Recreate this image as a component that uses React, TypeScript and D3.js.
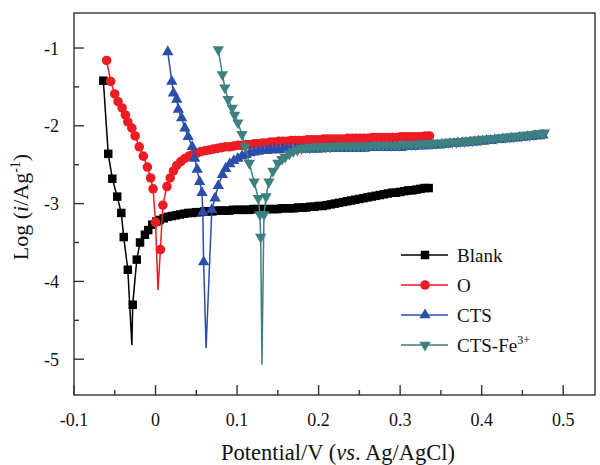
import React from "react";
import * as d3 from "d3";

type Pt = [number, number];

// Potentiodynamic polarization curves: [potential (V vs. Ag/AgCl), log(i / A g^-1)]
const blankCurve: Pt[] = [
  [-0.064, -1.42], [-0.058, -2.36], [-0.053, -2.68], [-0.047, -2.91], [-0.042, -3.12],
  [-0.039, -3.43], [-0.034, -3.85], [-0.029, -4.82], [-0.028, -4.30], [-0.023, -3.72],
  [-0.019, -3.50], [-0.013, -3.40], [-0.009, -3.34], [-0.004, -3.27], [0.001, -3.23],
  [0.005, -3.21], [0.010, -3.19], [0.015, -3.17], [0.020, -3.16], [0.025, -3.15],
  [0.030, -3.14], [0.035, -3.13], [0.040, -3.12], [0.045, -3.12], [0.050, -3.11],
  [0.055, -3.11], [0.060, -3.10], [0.065, -3.10], [0.070, -3.10], [0.075, -3.09],
  [0.080, -3.09], [0.085, -3.09], [0.090, -3.09], [0.095, -3.08], [0.100, -3.08],
  [0.105, -3.08], [0.110, -3.08], [0.115, -3.08], [0.120, -3.07], [0.125, -3.07],
  [0.130, -3.07], [0.135, -3.07], [0.140, -3.07], [0.145, -3.07], [0.150, -3.07],
  [0.155, -3.06], [0.160, -3.06], [0.165, -3.06], [0.170, -3.06], [0.175, -3.05],
  [0.180, -3.05], [0.185, -3.05], [0.190, -3.04], [0.195, -3.04], [0.200, -3.03],
  [0.205, -3.03], [0.210, -3.02], [0.215, -3.01], [0.220, -3.00], [0.225, -2.99],
  [0.230, -2.98], [0.235, -2.97], [0.240, -2.96], [0.245, -2.95], [0.250, -2.94],
  [0.255, -2.93], [0.260, -2.92], [0.265, -2.91], [0.270, -2.90], [0.275, -2.89],
  [0.280, -2.88], [0.285, -2.87], [0.290, -2.86], [0.295, -2.86], [0.300, -2.85],
  [0.305, -2.84], [0.310, -2.83], [0.315, -2.83], [0.320, -2.82], [0.325, -2.81],
  [0.330, -2.80], [0.335, -2.80],
];

const oCurve: Pt[] = [
  [-0.060, -1.16], [-0.055, -1.43], [-0.050, -1.59], [-0.046, -1.69], [-0.041, -1.77],
  [-0.037, -1.86], [-0.034, -1.95], [-0.029, -2.03], [-0.025, -2.13], [-0.020, -2.27],
  [-0.015, -2.39], [-0.010, -2.53], [-0.006, -2.67], [-0.003, -2.81], [0.000, -3.24],
  [0.003, -4.11], [0.006, -3.59], [0.009, -3.02], [0.014, -2.78], [0.018, -2.67],
  [0.022, -2.58], [0.026, -2.51], [0.031, -2.46], [0.036, -2.42], [0.041, -2.39],
  [0.046, -2.37], [0.051, -2.35], [0.056, -2.33], [0.061, -2.32], [0.066, -2.31],
  [0.071, -2.30], [0.076, -2.29], [0.081, -2.28], [0.086, -2.27], [0.091, -2.27],
  [0.096, -2.26], [0.101, -2.25], [0.106, -2.25], [0.111, -2.24], [0.116, -2.24],
  [0.121, -2.23], [0.126, -2.23], [0.131, -2.22], [0.136, -2.22], [0.141, -2.21],
  [0.146, -2.21], [0.151, -2.20], [0.156, -2.20], [0.161, -2.20], [0.166, -2.19],
  [0.171, -2.19], [0.176, -2.19], [0.181, -2.19], [0.186, -2.18], [0.191, -2.18],
  [0.196, -2.18], [0.201, -2.18], [0.206, -2.17], [0.211, -2.17], [0.216, -2.17],
  [0.221, -2.17], [0.226, -2.17], [0.231, -2.17], [0.236, -2.16], [0.241, -2.16],
  [0.246, -2.16], [0.251, -2.16], [0.256, -2.16], [0.261, -2.16], [0.266, -2.15],
  [0.271, -2.15], [0.276, -2.15], [0.281, -2.15], [0.286, -2.15], [0.291, -2.15],
  [0.296, -2.15], [0.301, -2.14], [0.306, -2.14], [0.311, -2.14], [0.316, -2.14],
  [0.321, -2.14], [0.326, -2.14], [0.331, -2.13], [0.336, -2.13],
];

const ctsCurve: Pt[] = [
  [0.015, -1.05], [0.020, -1.43], [0.022, -1.58], [0.026, -1.66], [0.028, -1.79],
  [0.032, -1.90], [0.036, -2.03], [0.040, -2.14], [0.045, -2.27], [0.048, -2.42],
  [0.051, -2.56], [0.054, -2.72], [0.057, -2.86], [0.058, -3.11], [0.059, -3.75],
  [0.062, -4.86], [0.069, -3.08], [0.073, -2.93], [0.077, -2.77], [0.082, -2.63],
  [0.086, -2.55], [0.091, -2.49], [0.096, -2.45], [0.101, -2.42], [0.106, -2.39],
  [0.111, -2.37], [0.116, -2.35], [0.121, -2.34], [0.126, -2.33], [0.131, -2.32],
  [0.136, -2.32], [0.141, -2.31], [0.146, -2.31], [0.151, -2.31], [0.156, -2.30],
  [0.161, -2.30], [0.166, -2.30], [0.171, -2.30], [0.176, -2.30], [0.181, -2.30],
  [0.186, -2.30], [0.191, -2.30], [0.196, -2.30], [0.201, -2.30], [0.206, -2.29],
  [0.211, -2.29], [0.216, -2.29], [0.221, -2.29], [0.226, -2.29], [0.231, -2.29],
  [0.236, -2.29], [0.241, -2.29], [0.246, -2.29], [0.251, -2.29], [0.256, -2.29],
  [0.261, -2.28], [0.266, -2.28], [0.271, -2.28], [0.276, -2.28], [0.281, -2.28],
  [0.286, -2.28], [0.291, -2.28], [0.296, -2.28], [0.301, -2.28], [0.306, -2.27],
  [0.311, -2.27], [0.316, -2.27], [0.321, -2.26], [0.326, -2.26], [0.331, -2.26],
  [0.336, -2.25], [0.341, -2.25], [0.346, -2.25], [0.351, -2.24], [0.356, -2.24],
  [0.361, -2.23], [0.366, -2.23], [0.371, -2.22], [0.376, -2.22], [0.381, -2.22],
  [0.386, -2.21], [0.391, -2.21], [0.396, -2.20], [0.401, -2.20], [0.406, -2.19],
  [0.411, -2.19], [0.416, -2.18], [0.421, -2.18], [0.426, -2.17], [0.431, -2.17],
  [0.436, -2.16], [0.441, -2.16], [0.446, -2.15], [0.451, -2.15], [0.456, -2.14],
  [0.461, -2.14], [0.466, -2.13], [0.471, -2.13], [0.475, -2.12],
];

const ctsFeCurve: Pt[] = [
  [0.077, -1.02], [0.082, -1.34], [0.085, -1.51], [0.089, -1.66], [0.094, -1.77],
  [0.097, -1.86], [0.101, -1.96], [0.106, -2.11], [0.110, -2.27], [0.115, -2.48],
  [0.121, -2.72], [0.126, -2.93], [0.128, -3.14], [0.129, -3.43], [0.1305, -5.07],
  [0.133, -3.14], [0.1355, -2.91], [0.139, -2.72], [0.144, -2.58], [0.150, -2.48],
  [0.155, -2.43], [0.159, -2.40], [0.164, -2.36], [0.169, -2.33], [0.174, -2.31],
  [0.179, -2.29], [0.184, -2.28], [0.189, -2.28], [0.194, -2.27], [0.199, -2.27],
  [0.204, -2.27], [0.209, -2.27], [0.214, -2.27], [0.219, -2.26], [0.224, -2.26],
  [0.229, -2.26], [0.234, -2.26], [0.239, -2.26], [0.244, -2.26], [0.249, -2.26],
  [0.254, -2.26], [0.259, -2.26], [0.264, -2.25], [0.269, -2.25], [0.274, -2.25],
  [0.279, -2.25], [0.284, -2.25], [0.289, -2.25], [0.294, -2.25], [0.299, -2.25],
  [0.304, -2.24], [0.309, -2.24], [0.314, -2.24], [0.319, -2.24], [0.324, -2.23],
  [0.329, -2.23], [0.334, -2.23], [0.339, -2.23], [0.344, -2.22], [0.349, -2.22],
  [0.354, -2.22], [0.359, -2.21], [0.364, -2.21], [0.369, -2.21], [0.374, -2.20],
  [0.379, -2.20], [0.384, -2.19], [0.389, -2.19], [0.394, -2.18], [0.399, -2.18],
  [0.404, -2.17], [0.409, -2.17], [0.414, -2.16], [0.419, -2.16], [0.424, -2.15],
  [0.429, -2.15], [0.434, -2.14], [0.439, -2.14], [0.444, -2.13], [0.449, -2.13],
  [0.454, -2.12], [0.459, -2.12], [0.464, -2.11], [0.469, -2.10], [0.474, -2.10],
  [0.477, -2.09],
];

const seriesNames = ["Blank", "O", "CTS", "CTS-Fe"];
const seriesColors = ["#000000", "#ec1c24", "#2b4ea9", "#3e8081"];
const seriesShapes = ["square", "circle", "triangle", "triangleDown"];
const seriesCurves = [blankCurve, oCurve, ctsCurve, ctsFeCurve];

const xTicks = [-0.1, 0, 0.1, 0.2, 0.3, 0.4, 0.5];
const xMinorTicks = [-0.05, 0.05, 0.15, 0.25, 0.35, 0.45];
const yTicks = [-5, -4, -3, -2, -1];
const yMinorTicks = [-4.5, -3.5, -2.5, -1.5];

const W = 600;
const H = 465;
const plot = { left: 74, right: 595, top: 13, bottom: 395 };
const font = "'Liberation Serif', 'Times New Roman', serif";
const axisColor = "#333";

const x = d3.scaleLinear().domain([-0.1, 0.539]).range([plot.left, plot.right]);
const y = d3.scaleLinear().domain([-5.46, -0.55]).range([plot.bottom, plot.top]);

const line = d3
  .line<Pt>()
  .x((d) => x(d[0]))
  .y((d) => y(d[1]));

function markerPath(shape: string): { d: string; rotate: number } {
  if (shape === "square") return { d: d3.symbol().type(d3.symbolSquare).size(72)() as string, rotate: 0 };
  if (shape === "circle") return { d: d3.symbol().type(d3.symbolCircle).size(72)() as string, rotate: 0 };
  if (shape === "triangle") return { d: d3.symbol().type(d3.symbolTriangle).size(56)() as string, rotate: 0 };
  return { d: d3.symbol().type(d3.symbolTriangle).size(56)() as string, rotate: 180 };
}

function Series({ data, color, shape }: { data: Pt[]; color: string; shape: string }) {
  const m = markerPath(shape);
  const minIdx = d3.minIndex(data, (d) => d[1]);
  return (
    <g>
      <path d={line(data) as string} fill="none" stroke={color} strokeWidth={1.5} />
      {data.map((d, i) =>
        i === minIdx ? null : (
          <path
            key={i}
            d={m.d}
            fill={color}
            transform={`translate(${x(d[0])},${y(d[1])}) rotate(${m.rotate})`}
          />
        )
      )}
    </g>
  );
}

export default function App() {
  const fmtX = (v: number) => (v === 0 ? "0" : String(v));
  return (
    <svg
      width={W}
      height={H}
      viewBox={`0 0 ${W} ${H}`}
      style={{ position: "absolute", left: 0, top: 0, background: "#fff" }}
    >
      <rect x={0} y={0} width={W} height={H} fill="#fff" />

      {seriesCurves.map((c, i) => (
        <Series key={seriesNames[i]} data={c} color={seriesColors[i]} shape={seriesShapes[i]} />
      ))}

      {/* frame */}
      <rect
        x={plot.left}
        y={plot.top}
        width={plot.right - plot.left}
        height={plot.bottom - plot.top}
        fill="none"
        stroke={axisColor}
        strokeWidth={1.4}
      />

      {/* x axis ticks and labels */}
      {xTicks.map((t) => (
        <g key={`xt${t}`}>
          <line x1={x(t)} x2={x(t)} y1={plot.bottom} y2={plot.bottom - 10} stroke={axisColor} strokeWidth={1.4} />
          <text x={x(t)} y={426} textAnchor="middle" fontFamily={font} fontSize={18} fill="#111">
            {fmtX(t)}
          </text>
        </g>
      ))}
      {xMinorTicks.map((t) => (
        <line key={`xm${t}`} x1={x(t)} x2={x(t)} y1={plot.bottom} y2={plot.bottom - 5} stroke={axisColor} strokeWidth={1.4} />
      ))}

      {/* y axis ticks and labels */}
      {yTicks.map((t) => (
        <g key={`yt${t}`}>
          <line x1={plot.left} x2={plot.left + 10} y1={y(t)} y2={y(t)} stroke={axisColor} strokeWidth={1.4} />
          <text x={59} y={y(t) + 6.5} textAnchor="end" fontFamily={font} fontSize={18} fill="#111">
            {String(t)}
          </text>
        </g>
      ))}
      {yMinorTicks.map((t) => (
        <line key={`ym${t}`} x1={plot.left} x2={plot.left + 5} y1={y(t)} y2={y(t)} stroke={axisColor} strokeWidth={1.4} />
      ))}

      {/* axis titles */}
      <text x={338} y={460} textAnchor="middle" fontFamily={font} fontSize={22.5} fill="#111">
        Potential/V (<tspan fontStyle="italic">vs</tspan>. Ag/AgCl)
      </text>
      <text
        transform="translate(28,207) rotate(-90)"
        textAnchor="middle"
        fontFamily={font}
        fontSize={22}
        fill="#111"
      >
        Log (<tspan fontStyle="italic">i</tspan>/Ag
        <tspan fontSize={14} dy={-8}>-1</tspan>
        <tspan dy={8}>)</tspan>
      </text>

      {/* legend */}
      {seriesNames.map((name, i) => {
        const cy = 255 + i * 30;
        const m = markerPath(seriesShapes[i]);
        return (
          <g key={`lg${name}`}>
            <line x1={401} x2={448} y1={cy} y2={cy} stroke={seriesColors[i]} strokeWidth={1.5} />
            <path d={m.d} fill={seriesColors[i]} transform={`translate(425,${cy}) rotate(${m.rotate})`} />
            <text x={457} y={cy + 7} fontFamily={font} fontSize={19} fill="#111">
              {name}
              {name === "CTS-Fe" ? (
                <tspan fontSize={12} dy={-8}>3+</tspan>
              ) : null}
            </text>
          </g>
        );
      })}
    </svg>
  );
}
